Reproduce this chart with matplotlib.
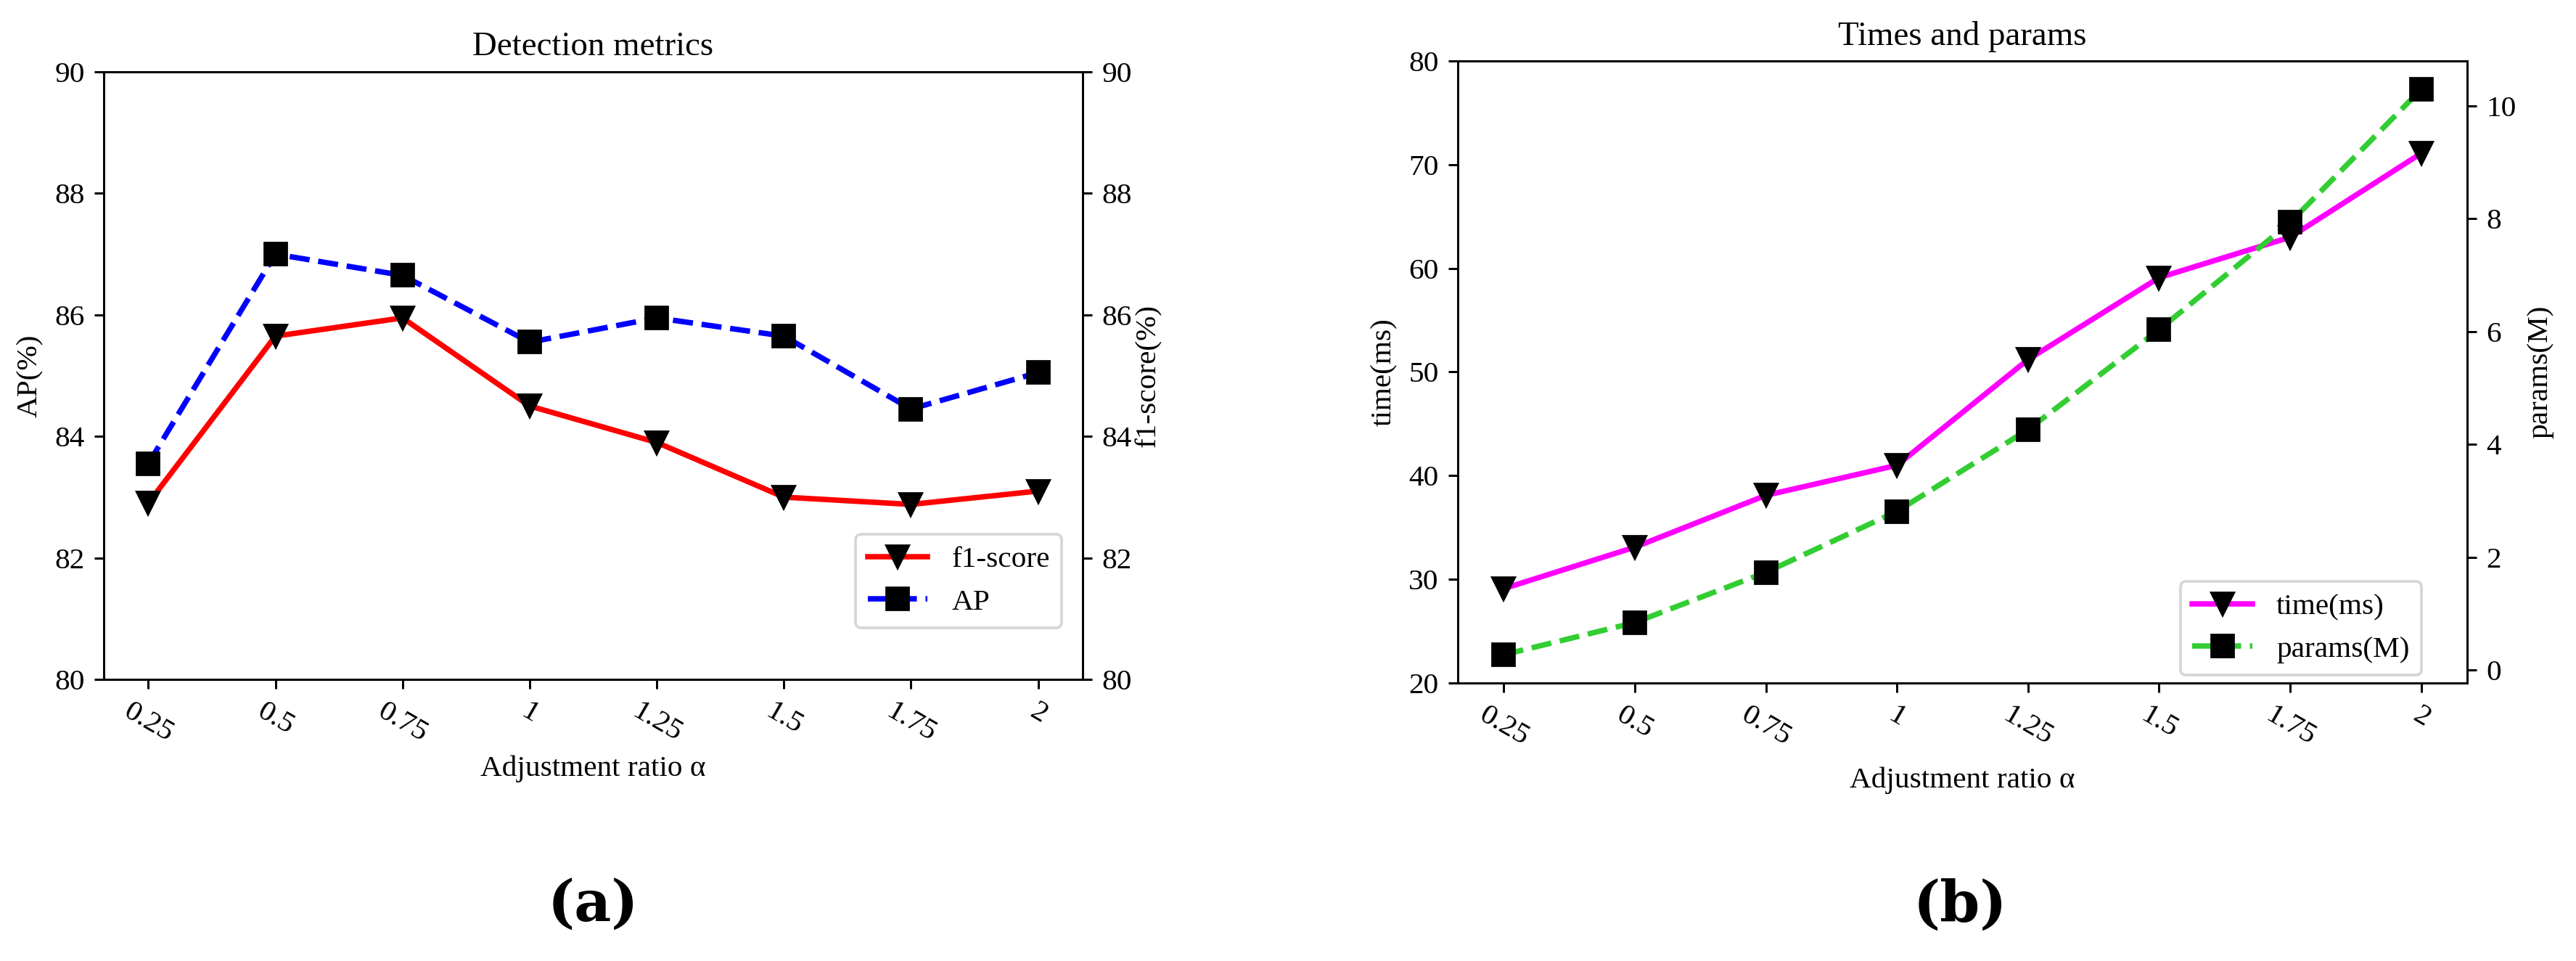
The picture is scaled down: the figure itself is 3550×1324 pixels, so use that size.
import matplotlib
matplotlib.use("Agg")
import matplotlib.pyplot as plt

plt.rcParams['font.family'] = ['Liberation Serif', 'DejaVu Serif']
plt.rcParams['xtick.labelsize'] = 11
plt.rcParams['ytick.labelsize'] = 11
plt.rcParams['axes.labelsize'] = 11
plt.rcParams['axes.titlesize'] = 12.5
plt.rcParams['legend.fontsize'] = 11

ratios = ["0.25", "0.5", "0.75", "1", "1.25", "1.5", "1.75", "2"]
f1_score = [82.9, 85.65, 85.95, 84.5, 83.9, 83.0, 82.88, 83.1]
ap = [83.55, 87.0, 86.65, 85.55, 85.95, 85.65, 84.45, 85.05]
time_ms = [29.1, 33.1, 38.1, 41.0, 51.2, 59.1, 63.0, 71.1]
params_m = [0.27, 0.84, 1.73, 2.81, 4.26, 6.03, 7.93, 10.29]

W, H, DPI = 3550, 1324, 270
fig = plt.figure(figsize=(W / DPI, H / DPI), dpi=DPI)

x = list(range(len(ratios)))

# (a) detection metrics
ax1 = fig.add_axes([143 / W, 1 - 936 / H, (1492 - 143) / W, (936 - 99) / H])
ax1b = ax1.twinx()
l1, = ax1b.plot(x, f1_score, color='red', linestyle='-', linewidth=2,
                marker='v', markersize=8, markerfacecolor='black',
                markeredgecolor='black', label='f1-score')
l2, = ax1.plot(x, ap, color='blue', linestyle='--', linewidth=2,
               marker='s', markersize=8, markerfacecolor='black',
               markeredgecolor='black', label='AP')
ax1.set_ylim(80, 90)
ax1b.set_ylim(80, 90)
ax1.set_xticks(x)
ax1.set_xticklabels(ratios, rotation=-30)
ax1.set_ylabel('AP(%)')
ax1b.set_ylabel('f1-score(%)', labelpad=1)
ax1.set_xlabel('Adjustment ratio α')
ax1.xaxis.set_label_coords(0.5, -0.125)
ax1.set_title('Detection metrics')
ax1b.legend([l1, l2], ['f1-score', 'AP'], loc='lower right',
            bbox_to_anchor=(0.9786, 0.0848), borderaxespad=0)

# (b) times and params
ax2 = fig.add_axes([2009 / W, 1 - 941 / H, (3400 - 2009) / W, (941 - 84) / H])
ax2b = ax2.twinx()
l3, = ax2.plot(x, time_ms, color='magenta', linestyle='-', linewidth=2,
               marker='v', markersize=8, markerfacecolor='black',
               markeredgecolor='black', label='time(ms)')
l4, = ax2b.plot(x, params_m, color='limegreen', linestyle='--', linewidth=2,
                marker='s', markersize=8, markerfacecolor='black',
                markeredgecolor='black', label='params(M)')
ax2.set_ylim(20, 80)
ax2.set_xticks(x)
ax2.set_xticklabels(ratios, rotation=-30)
ax2.set_ylabel('time(ms)')
ax2b.set_ylabel('params(M)')
ax2.set_xlabel('Adjustment ratio α')
ax2.xaxis.set_label_coords(0.5, -0.135)
ax2.set_title('Times and params')
ax2b.legend([l3, l4], ['time(ms)', 'params(M)'], loc='lower right',
            bbox_to_anchor=(0.9547, 0.0128), borderaxespad=0)

fig.text(817 / W, 1 - 1248 / H, '(a)', ha='center', va='center',
         fontsize=21, fontweight='bold', family='DejaVu Serif')
fig.text(2701 / W, 1 - 1248 / H, '(b)', ha='center', va='center',
         fontsize=21, fontweight='bold', family='DejaVu Serif')

fig.savefig('out.png', dpi=DPI)
